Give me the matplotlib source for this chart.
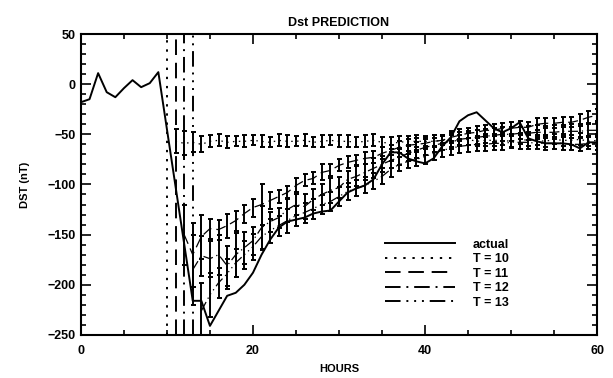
import numpy as np
import matplotlib.pyplot as plt

plt.rcParams['font.family'] = ['Liberation Sans', 'DejaVu Sans']
plt.rcParams['font.weight'] = 'bold'

# actual Dst, hourly from 0 to 60
hours = np.arange(0, 61)
actual = [-18, -15, 11, -8, -13, -4, 4, -3, 1, 12,
          -45, -102, -159, -216, -216, -241, -226, -211, -208, -200,
          -188, -170, -155, -143, -137, -135, -133, -129, -127, -126,
          -117, -108, -104, -101, -95, -80, -68, -68, -74, -77,
          -79, -74, -62, -53, -37, -31, -28, -36, -44, -48,
          -44, -38, -54, -57, -59, -59, -59, -60, -64, -58,
          -58]

# predictions started at hour T (values from T+1 to 60)
pred_t10 = [-57, -59, -58, -60, -57, -56, -58, -57, -57, -56,
            -57, -58, -56, -57, -57, -56, -58, -57, -56, -57,
            -57, -58, -57, -56, -58, -59, -58, -57, -57, -57,
            -57, -56, -57, -56, -55, -57, -56, -56, -56, -57,
            -55, -56, -56, -57, -55, -56, -56, -55, -57, -56]
err_t10 = [12, 12, 10, 8, 6, 6, 6, 5, 6, 5,
           6, 5, 6, 6, 5, 6, 5, 6, 5, 6,
           6, 5, 6, 6, 5, 6, 6, 5, 6, 5,
           6, 5, 6, 5, 6, 5, 6, 6, 5, 6,
           5, 6, 5, 6, 5, 6, 5, 6, 5, 6]

pred_t11 = [-150, -170, -152, -144, -145, -141, -136, -129, -123,
            -120, -116, -112, -108, -101, -96, -94, -88, -86, -81,
            -78, -76, -74, -73, -69, -66, -63, -61, -60, -59,
            -57, -56, -53, -51, -49, -48, -46, -46, -44, -44,
            -43, -43, -40, -39, -39, -38, -38, -36, -33, -31]
err_t11 = [30, 32, 22, 10, 10, 12, 10, 9, 9,
           20, 8, 6, 6, 7, 6, 6, 8, 6, 6,
           6, 5, 6, 6, 6, 5, 6, 6, 6, 6,
           6, 5, 6, 6, 5, 6, 5, 6, 5, 6,
           6, 5, 6, 5, 5, 5, 5, 6, 6, 6]

pred_t12 = [-185, -171, -174, -170, -181, -170, -163, -156,
            -143, -137, -133, -125, -120, -122, -115, -110, -106, -103,
            -95, -92, -88, -84, -80, -76, -73, -69, -66, -63,
            -61, -59, -57, -55, -54, -53, -52, -51, -50, -50,
            -49, -49, -48, -48, -48, -47, -47, -47, -46, -46]
err_t12 = [35, 20, 18, 20, 20, 22, 16, 14,
           22, 10, 10, 12, 10, 12, 10, 10, 12, 10,
           8, 10, 8, 10, 8, 8, 8, 8, 8, 8,
           7, 7, 8, 7, 7, 7, 7, 7, 7, 7,
           6, 7, 7, 6, 7, 6, 7, 7, 6, 7]

pred_t13 = [-226, -210, -198, -189, -178, -170, -162,
            -152, -146, -141, -136, -131, -128, -124, -120, -117, -112,
            -107, -104, -101, -97, -92, -85, -80, -77, -75, -72,
            -69, -66, -64, -62, -61, -60, -60, -59, -59, -58,
            -58, -58, -59, -59, -59, -59, -60, -60, -59, -59]
err_t13 = [28, 22, 15, 15, 14, 14, 13,
           12, 12, 10, 12, 10, 10, 10, 9, 9, 9,
           8, 8, 8, 8, 8, 8, 7, 7, 7, 8,
           7, 7, 7, 7, 7, 7, 7, 7, 7, 6,
           7, 7, 6, 7, 6, 7, 6, 7, 6, 7]

starts = [10, 11, 12, 13]
preds = [pred_t10, pred_t11, pred_t12, pred_t13]
errs = [err_t10, err_t11, err_t12, err_t13]
styles = [(0, (1.2, 3.5)), (0, (8, 4)), (0, (8, 3, 1, 3)), (0, (8, 3, 1, 3, 1, 3, 1, 3))]

fig = plt.figure(figsize=(6.13, 3.78), dpi=100)
ax = fig.add_axes([0.132, 0.114, 0.842, 0.796])

ax.plot(hours, actual, color='black', lw=1.4, label='actual')

for T, p, e, ls in zip(starts, preds, errs, styles):
    h = np.arange(T + 1, 61)
    ax.axvline(T, color='black', lw=1.4, linestyle=ls, label='T = %d' % T)
    ax.errorbar(h, p, yerr=e, fmt='none', ecolor='black', elinewidth=1.4,
                capsize=1.8, capthick=1.4)
    ax.plot(h, p, color='black', lw=0.9, linestyle=ls)

ax.set_xlim(0, 60)
ax.set_ylim(-250, 50)
ax.set_xticks([0, 20, 40, 60])
ax.set_xticks(np.arange(0, 61, 5), minor=True)
ax.set_yticks(np.arange(-250, 51, 50))
ax.set_yticks(np.arange(-250, 51, 10), minor=True)
ax.tick_params(which='both', direction='in', top=True, right=True, width=1.2,
               labelsize=9)
ax.tick_params(which='major', length=7)
ax.tick_params(which='minor', length=3.5)
ax.tick_params(axis='x', pad=7)
ax.tick_params(axis='y', pad=4)
for s in ax.spines.values():
    s.set_linewidth(1.5)

ax.set_title('Dst PREDICTION', fontsize=9, fontweight='bold', pad=6)
ax.set_xlabel('HOURS', fontsize=8, fontweight='bold', labelpad=5)
ax.set_ylabel('DST (nT)', fontsize=8, fontweight='bold', labelpad=12)

ax.legend(loc='lower left', bbox_to_anchor=(0.58, 0.07), frameon=False,
          prop={'size': 9, 'weight': 'bold'}, handlelength=5.6,
          handletextpad=1.4, labelspacing=0.2, borderaxespad=0)

fig.savefig('out.png', dpi=100)
